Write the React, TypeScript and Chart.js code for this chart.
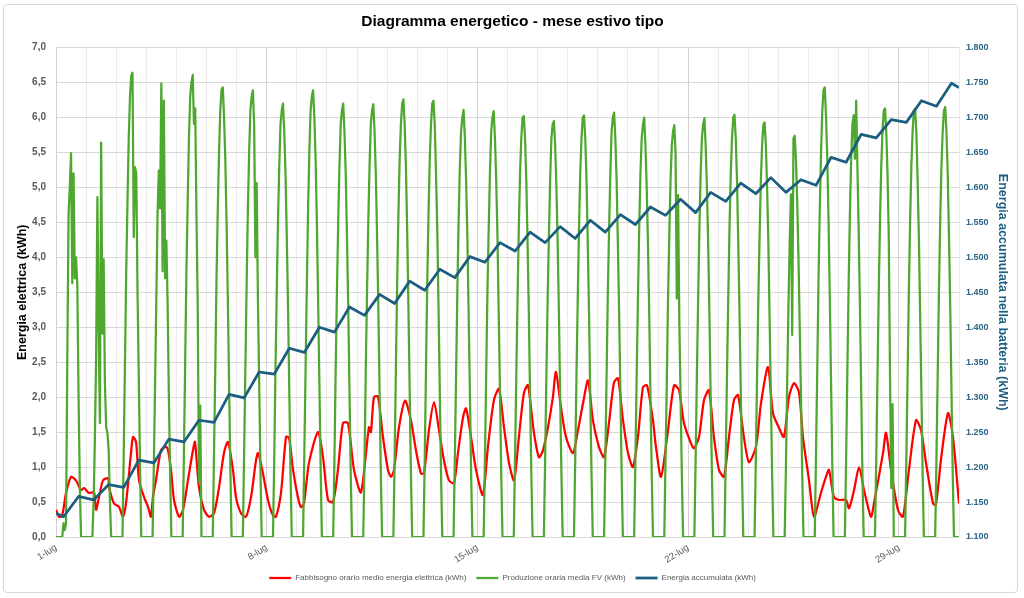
import React, { useEffect, useRef } from 'react';
import { Chart, registerables } from 'chart.js';

Chart.register(...registerables);

// ---------- data ----------
const titleText = 'Diagramma energetico - mese estivo tipo';
const seriesNames = [
  'Fabbisogno orario medio energia elettrica (kWh)',
  'Produzione oraria media FV (kWh)',
  'Energia accumulata (kWh)',
];
const xTickLabels = ['1-lug', '8-lug', '15-lug', '22-lug', '29-lug'];
const daysInChart = 30;

// Electric demand: [hour since 1-lug 00:00, kWh]
const demandHours = [
  0, 2.4, 4.8, 8, 12, 15.9, 19.9, 22.3, 26.3, 30.3, 31.9, 34.3, 37.5, 41.5, 42.3, 46.2, 50.2, 53.4, 55.8, 59.8,
  61.4, 63.8, 66.2, 70.2, 73.4, 75.7, 77.3, 79.7, 83.7, 87.7, 89.3, 91.7, 94.1, 98.1, 101.3, 105.2, 109.2, 110.8,
  114, 118, 122, 126, 130, 133.9, 137.1, 141.1, 143.5, 147.5, 151.5, 155.5, 159.5, 161.1, 165, 169, 173, 175.4,
  179.4, 183.4, 185.8, 189, 192.9, 195.3, 197.7, 201.7, 208.9, 212.9, 216.9, 220.9, 224.8, 228.8, 232.8, 237.6,
  243.2, 249.5, 251.1, 253.5, 256.7, 260.7, 264.7, 267.1, 269.5, 273.5, 278.3, 283, 287, 291, 293.4, 297.4, 301.4,
  305.4, 309.3, 313.3, 317.3, 320.5, 324.5, 326.9, 330.9, 334.9, 340.4, 344.4, 349.2, 353.2, 357.2, 361.2, 365.2,
  369.1, 373.1, 376.3, 381.1, 385.1, 388.3, 392.3, 396.2, 398.6, 402.6, 406.6, 412.2, 416.2, 420.2, 424.2, 428.1,
  432.9, 436.9, 440.9, 444.9, 448.1, 452.1, 456.1, 460, 464, 468, 471.2, 476, 478, 482.4, 488, 492.8, 496.8, 500.7,
  506.3, 508.7, 512.7, 516.7, 520.6, 524.6, 528.6, 532.6, 536.6, 540.6, 543.8, 548.5, 552.5, 558.1, 562.1, 567.7,
  571.7, 576.5, 580.4, 584.4, 588.4, 592.4, 595.6, 600.4, 604.4, 609.9, 613.9, 616.3, 620.3, 624.3, 629.9, 632.3,
  636.3, 640.3, 644.3, 649.8, 652.2, 659.4, 661.8, 665.8, 671.3, 675.3, 680.1, 685.7, 689.7, 693.7, 699.3, 701.6,
  705.6, 711.2, 715.2, 720,
];
const demandKWh = [
  0.39, 0.29, 0.3, 0.63, 0.86, 0.81, 0.67, 0.7, 0.63, 0.64, 0.39, 0.57, 0.81, 0.84, 0.71, 0.48, 0.43, 0.29, 0.48, 1.2,
  1.43, 1.36, 0.81, 0.57, 0.43, 0.29, 0.57, 0.81, 1.24, 1.29, 1.24, 0.96, 0.53, 0.29, 0.39, 0.81, 1.24, 1.36,
  0.71, 0.39, 0.29, 0.34, 0.71, 1.2, 1.36, 0.96, 0.57, 0.34, 0.29, 0.57, 1.1, 1.2, 0.91, 0.53, 0.31, 0.29,
  0.63, 1.43, 1.42, 0.96, 0.57, 0.43, 0.48, 1.06, 1.5, 1.14, 0.53, 0.5, 0.96, 1.63, 1.63, 0.96,
  0.64, 1.57, 1.5, 2.0, 2.01, 1.43, 0.96, 0.86, 0.96, 1.57, 1.95, 1.67, 1.24, 0.91, 0.91, 1.53, 1.93,
  1.53, 1.1, 0.81, 0.77, 1.2, 1.71, 1.84, 1.43, 0.96, 0.6, 1.29, 1.96, 2.12, 1.57, 1.06, 0.81,
  1.43, 2.06, 2.17, 1.49, 1.14, 1.24, 1.57, 2.0, 2.36, 1.86, 1.43, 1.2, 1.53, 1.91, 2.24, 1.67,
  1.29, 1.14, 1.63, 2.21, 2.27, 1.67, 1.2, 1.0, 1.43, 2.14, 2.17, 1.67, 1.34, 0.86, 1.53, 2.17, 2.1, 1.63,
  1.34, 1.27, 1.43, 1.96, 2.1, 1.43, 0.96, 0.86, 1.43, 1.96, 2.03, 1.43, 1.07, 1.29, 1.91, 2.43,
  1.77, 1.56, 1.43, 2.0, 2.2, 2.07, 1.43, 0.81, 0.29, 0.63, 0.86, 0.96, 0.57, 0.53, 0.53, 0.41,
  0.67, 1.0, 0.67, 0.29, 0.48, 1.2, 1.49, 0.96, 0.39, 0.29, 0.96, 1.67, 1.53, 1.06, 0.48, 0.46,
  1.1, 1.77, 1.43, 0.48,
];

// PV production: one row per day, values for hours 05..20
const pvFirstHour = 5;
const pvByDay = [
  [0, 0.2, 0.1, 0.2, 2.5, 4.6, 5.0, 5.49, 3.63, 5.2, 3.7, 4.0, 3.6, 2.0, 0.7, 0],
  [0, 0.5, 1.4, 2.6, 4.86, 3.0, 1.63, 5.64, 2.91, 3.97, 2.2, 1.57, 1.49, 1.24, 0.5, 0],
  [0, 1.2, 2.5, 3.8, 4.8, 5.7, 6.3, 6.6, 6.64, 4.29, 5.29, 5.2, 3.5, 2.3, 1.0, 0],
  [0, 1.0, 2.2, 3.4, 4.64, 5.24, 4.7, 6.49, 3.8, 6.24, 3.7, 4.24, 3.34, 2.0, 0.9, 0],
  [0, 1.2, 2.5, 3.8, 4.8, 5.7, 6.3, 6.5, 6.61, 5.91, 6.13, 4.6, 3.3, 0.8, 1.88, 0],
  [0, 1.2, 2.4, 3.7, 4.7, 5.5, 6.1, 6.4, 6.43, 6.0, 5.4, 4.5, 3.4, 2.2, 1.0, 0],
  [0, 1.2, 2.4, 3.6, 4.7, 5.5, 6.1, 6.3, 6.39, 5.9, 4.0, 5.06, 3.4, 2.2, 1.0, 0],
  [0, 1.1, 2.4, 3.5, 4.5, 5.3, 5.9, 6.1, 6.2, 5.8, 5.2, 4.3, 3.3, 2.1, 0.9, 0],
  [0, 1.2, 2.4, 3.6, 4.7, 5.5, 6.1, 6.3, 6.39, 6.0, 5.4, 4.5, 3.4, 2.2, 1.0, 0],
  [0, 1.1, 2.4, 3.5, 4.5, 5.3, 5.9, 6.1, 6.2, 5.8, 5.2, 4.3, 3.3, 2.1, 0.9, 0],
  [0, 1.1, 2.4, 3.5, 4.5, 5.3, 5.9, 6.1, 6.19, 5.8, 5.2, 4.3, 3.3, 2.1, 0.9, 0],
  [0, 1.1, 2.4, 3.6, 4.6, 5.4, 5.9, 6.2, 6.26, 5.9, 5.3, 4.4, 3.3, 2.1, 0.9, 0],
  [0, 1.1, 2.4, 3.6, 4.6, 5.4, 5.9, 6.2, 6.24, 5.9, 5.2, 4.4, 3.3, 2.1, 0.9, 0],
  [0, 1.1, 2.3, 3.5, 4.5, 5.3, 5.8, 6.0, 6.11, 5.7, 5.1, 4.3, 3.2, 2.1, 0.9, 0],
  [0, 1.1, 2.3, 3.5, 4.4, 5.2, 5.8, 6.0, 6.09, 5.7, 5.1, 4.3, 3.2, 2.1, 0.9, 0],
  [0, 1.1, 2.3, 3.4, 4.4, 5.2, 5.7, 6.0, 6.02, 5.7, 5.1, 4.2, 3.2, 2.0, 0.9, 0],
  [0, 1.1, 2.3, 3.4, 4.3, 5.1, 5.7, 5.9, 5.95, 5.6, 5.0, 4.2, 3.2, 2.0, 0.9, 0],
  [0, 1.1, 2.3, 3.4, 4.4, 5.2, 5.7, 6.0, 6.03, 5.7, 5.1, 4.2, 3.2, 2.0, 0.9, 0],
  [0, 1.1, 2.3, 3.5, 4.4, 5.2, 5.8, 6.0, 6.07, 5.7, 5.1, 4.2, 3.2, 2.1, 0.9, 0],
  [0, 1.1, 2.3, 3.4, 4.4, 5.2, 5.7, 5.9, 6.0, 5.6, 5.0, 4.2, 3.2, 2.0, 0.9, 0],
  [0, 1.1, 2.2, 3.4, 4.3, 5.1, 5.6, 5.8, 5.89, 5.5, 3.41, 4.89, 3.1, 2.0, 0.9, 0],
  [0, 1.1, 2.3, 3.4, 4.4, 5.2, 5.7, 5.9, 5.99, 5.6, 5.0, 4.2, 3.2, 2.0, 0.9, 0],
  [0, 1.1, 2.3, 3.4, 4.4, 5.2, 5.7, 6.0, 6.04, 5.7, 5.1, 4.2, 3.2, 2.1, 0.9, 0],
  [0, 1.1, 2.3, 3.4, 4.3, 5.1, 5.6, 5.9, 5.93, 5.6, 5.0, 4.2, 3.1, 2.0, 0.9, 0],
  [0, 1.0, 2.2, 3.3, 4.2, 4.9, 2.89, 5.7, 5.74, 5.4, 4.8, 4.0, 3.0, 2.0, 0.9, 0],
  [0, 1.2, 2.4, 3.7, 4.7, 5.5, 6.1, 6.4, 6.43, 6.0, 5.4, 4.5, 3.4, 2.2, 1.0, 0],
  [0, 1.1, 2.4, 3.6, 4.6, 5.4, 5.9, 6.03, 5.41, 6.24, 5.3, 4.4, 3.3, 2.1, 0.9, 0],
  [0, 1.1, 2.3, 3.5, 4.5, 5.3, 5.8, 6.1, 6.13, 5.8, 5.2, 4.3, 2.29, 0.7, 1.9, 0],
  [0, 1.1, 2.3, 3.5, 4.5, 5.3, 5.8, 6.1, 6.12, 5.8, 5.1, 4.3, 3.2, 2.1, 0.9, 0],
  [0, 1.1, 2.3, 3.5, 4.5, 5.3, 5.8, 6.1, 6.15, 5.8, 5.2, 4.3, 3.3, 2.1, 0.9, 0],
];

// Stored energy (secondary axis): morning low (~06:00) and evening high (~18:00) of each day
const storedStart = 1.134;
const storedEnd = 1.743;
const storedLowHour = 6;
const storedHighHour = 18;
const storedLow = [
  1.129, 1.153, 1.171, 1.206, 1.236, 1.264, 1.299, 1.333, 1.364, 1.393, 1.417, 1.434, 1.453, 1.471, 1.493,
  1.509, 1.521, 1.527, 1.536, 1.547, 1.56, 1.564, 1.58, 1.591, 1.593, 1.603, 1.636, 1.671, 1.693, 1.716,
];
const storedHigh = [
  1.158, 1.175, 1.21, 1.24, 1.267, 1.304, 1.336, 1.37, 1.4, 1.429, 1.447, 1.466, 1.483, 1.501, 1.521,
  1.536, 1.544, 1.553, 1.561, 1.572, 1.583, 1.593, 1.606, 1.614, 1.611, 1.643, 1.676, 1.697, 1.724, 1.749,
];

// ---------- build the library tables ----------
const demandPoints = demandHours.map((h, i) => ({ x: h, y: demandKWh[i] }));

const pvPoints: { x: number; y: number }[] = [{ x: 0, y: 0 }];
pvByDay.forEach((row, d) => {
  row.forEach((v, i) => pvPoints.push({ x: d * 24 + pvFirstHour + i, y: v }));
});
pvPoints.push({ x: daysInChart * 24, y: 0 });

const storedPoints: { x: number; y: number }[] = [{ x: 0, y: storedStart }];
storedLow.forEach((lo, d) => {
  storedPoints.push({ x: d * 24 + storedLowHour, y: lo });
  storedPoints.push({ x: d * 24 + storedHighHour, y: storedHigh[d] });
});
storedPoints.push({ x: daysInChart * 24, y: storedEnd });

const FONT = "'Liberation Sans', Arial, sans-serif";

export default function App() {
  const ref = useRef<HTMLCanvasElement>(null);

  useEffect(() => {
    if (!ref.current) return;
    Chart.defaults.font.family = FONT;
    const chart = new Chart(ref.current, {
      type: 'line',
      data: {
        datasets: [
          {
            label: seriesNames[0],
            data: demandPoints,
            borderColor: '#FF0000',
            backgroundColor: '#FF0000',
            borderWidth: 2.25,
            pointRadius: 0,
            tension: 0.25,
            borderJoinStyle: 'round',
            yAxisID: 'y',
            order: 3,
          },
          {
            label: seriesNames[1],
            data: pvPoints,
            borderColor: '#4EA72E',
            backgroundColor: '#4EA72E',
            borderWidth: 2.25,
            pointRadius: 0,
            tension: 0,
            borderJoinStyle: 'round',
            yAxisID: 'y',
            order: 2,
          },
          {
            label: seriesNames[2],
            data: storedPoints,
            borderColor: '#1B5E80',
            backgroundColor: '#1B5E80',
            borderWidth: 2.75,
            pointRadius: 0,
            tension: 0,
            borderJoinStyle: 'round',
            yAxisID: 'y1',
            order: 1,
          },
        ],
      },
      options: {
        responsive: false,
        animation: false,
        devicePixelRatio: 1,
        layout: { padding: { left: 11, right: 10, top: 0, bottom: 6 } },
        plugins: {
          tooltip: { enabled: false },
          title: {
            display: true,
            text: titleText,
            color: '#000000',
            font: { size: 15.5, weight: 'bold', family: FONT },
            padding: { top: 12, bottom: 17 },
          },
          legend: {
            position: 'bottom',
            labels: {
              usePointStyle: true,
              pointStyle: 'line',
              pointStyleWidth: 22,
              boxHeight: 8,
              padding: 10,
              color: '#595959',
              font: { size: 8, family: FONT },
              sort: (a: any, b: any) => a.datasetIndex - b.datasetIndex,
            },
          },
        },
        scales: {
          x: {
            type: 'linear',
            min: 0,
            max: daysInChart * 24,
            afterBuildTicks: (scale: any) => {
              scale.ticks = Array.from({ length: daysInChart + 1 }, (_, i) => ({ value: i * 24 }));
            },
            afterFit: (scale: any) => {
              scale.height = 27;
            },
            ticks: {
              autoSkip: false,
              maxRotation: 32,
              minRotation: 32,
              padding: 5,
              color: '#595959',
              font: { size: 9.5, family: FONT },
              callback: (v: any) => {
                const n = Number(v);
                if (n % 168 !== 0) return '';
                return xTickLabels[n / 168] ?? '';
              },
            },
            grid: {
              drawTicks: false,
              color: (ctx: any) =>
                ctx.tick && ctx.tick.value % 168 === 0 ? '#D2D2D2' : '#EBEBEB',
              lineWidth: 1,
            },
            border: { display: false },
          },
          y: {
            position: 'left',
            min: 0,
            max: 7,
            afterFit: (scale: any) => {
              scale.width = 45;
            },
            ticks: {
              stepSize: 0.5,
              padding: 10,
              color: '#595959',
              font: { size: 10, weight: 'bold', family: FONT },
              callback: (v: any) => Number(v).toFixed(1).replace('.', ','),
            },
            grid: { drawTicks: false, color: '#D9D9D9' },
            border: { display: false },
            title: {
              display: true,
              text: 'Energia elettrica (kWh)',
              color: '#000000',
              font: { size: 12.5, weight: 'bold', family: FONT },
              padding: { top: 4, bottom: 0 },
            },
          },
          y1: {
            position: 'right',
            min: 1.1,
            max: 1.8,
            afterFit: (scale: any) => {
              scale.width = 55;
            },
            ticks: {
              stepSize: 0.05,
              padding: 7,
              color: '#2B6585',
              font: { size: 9, weight: 'bold', family: FONT },
              callback: (v: any) => Number(v).toFixed(3),
            },
            grid: { drawOnChartArea: false, drawTicks: false },
            border: { display: false },
            title: {
              display: true,
              text: 'Energia accumulata nella batteria (kWh)',
              color: '#1B5E80',
              font: { size: 12.5, weight: 'bold', family: FONT },
              padding: { top: 4, bottom: 0 },
            },
          },
        },
      },
    } as any);
    return () => chart.destroy();
  }, []);

  return (
    <div style={{ position: 'fixed', left: 0, top: 0, width: 1024, height: 598, background: '#ffffff' }}>
      <div
        style={{
          position: 'absolute',
          left: 3,
          top: 4,
          width: 1015,
          height: 589,
          border: '1px solid #D9D9D9',
          borderRadius: 4,
          boxSizing: 'border-box',
        }}
      />
      <canvas
        ref={ref}
        width={1024}
        height={598}
        style={{ position: 'absolute', left: 0, top: 0, width: 1024, height: 598 }}
      />
    </div>
  );
}
